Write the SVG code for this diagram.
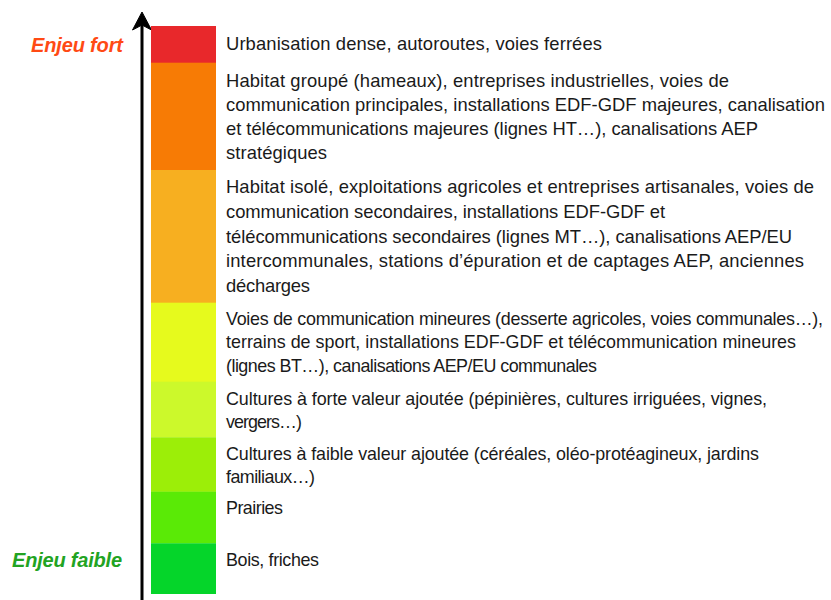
<svg xmlns="http://www.w3.org/2000/svg" width="831" height="600" viewBox="0 0 831 600">
  <style>
    .band { stroke: none; }
    .lbl { font-family: "Liberation Sans", Arial, sans-serif; font-size: 18.4px; fill: #1a1a1a; }
    .sm { font-size: 17.9px; }
    .axis { font-family: "Liberation Sans", Arial, sans-serif; font-size: 20px; font-weight: bold; font-style: italic; }
  </style>
  <rect width="831" height="600" fill="#ffffff"/>

  <!-- vertical scale arrow -->
  <g id="connectors">
    <line x1="142" y1="600" x2="142" y2="24" stroke="#000" stroke-width="3"/>
    <path d="M142,12 L151.5,30 L142,25 L132.5,30 Z" fill="#000" stroke="#000" stroke-width="1" stroke-linejoin="miter"/>
  </g>

  <g id="label-fort">
    <text class="axis" x="31" y="52" fill="#FF4A14" textLength="92">Enjeu fort</text>
  </g>
  <g id="label-faible">
    <text class="axis" x="12" y="567" fill="#22A322" textLength="110">Enjeu faible</text>
  </g>

  <g id="band-1">
    <rect class="band" x="151" y="26" width="65" height="37" fill="#E8282B"/>
    <text class="lbl" x="226" y="50" textLength="376">Urbanisation dense, autoroutes, voies ferrées</text>
  </g>
  <g id="band-2">
    <rect class="band" x="151" y="62.7" width="65" height="107.5" fill="#F77B05"/>
    <text class="lbl" x="226" y="87" textLength="503">Habitat groupé (hameaux), entreprises industrielles, voies de</text>
    <text class="lbl" x="226" y="111" textLength="599">communication principales, installations EDF-GDF majeures, canalisation</text>
    <text class="lbl" x="226" y="135" textLength="532">et télécommunications majeures (lignes HT…), canalisations AEP</text>
    <text class="lbl" x="226" y="158.5" textLength="101">stratégiques</text>
  </g>
  <g id="band-3">
    <rect class="band" x="151" y="170" width="65" height="133" fill="#F7AF20"/>
    <text class="lbl" x="226" y="193.3" textLength="588">Habitat isolé, exploitations agricoles et entreprises artisanales, voies de</text>
    <text class="lbl" x="226" y="218" textLength="439">communication secondaires, installations EDF-GDF et</text>
    <text class="lbl" x="226" y="242.5" textLength="566">télécommunications secondaires (lignes MT…), canalisations AEP/EU</text>
    <text class="lbl" x="226" y="267" textLength="578">intercommunales, stations d’épuration et de captages AEP, anciennes</text>
    <text class="lbl" x="226" y="291.5" textLength="84">décharges</text>
  </g>
  <g id="band-4">
    <rect class="band" x="151" y="302.7" width="65" height="79.3" fill="#E6FA1D"/>
    <text class="lbl sm" x="226" y="325" textLength="597">Voies de communication mineures (desserte agricoles, voies communales…),</text>
    <text class="lbl sm" x="226" y="348.3" textLength="570">terrains de sport, installations EDF-GDF et télécommunication mineures</text>
    <text class="lbl sm" x="226" y="371.7" textLength="371">(lignes BT…), canalisations AEP/EU communales</text>
  </g>
  <g id="band-5">
    <rect class="band" x="151" y="381.7" width="65" height="55.8" fill="#CCF92B"/>
    <text class="lbl sm" x="226" y="405" textLength="541">Cultures à forte valeur ajoutée (pépinières, cultures irriguées, vignes,</text>
    <text class="lbl sm" x="226" y="428.3" textLength="76">vergers…)</text>
  </g>
  <g id="band-6">
    <rect class="band" x="151" y="437.3" width="65" height="54.6" fill="#9CEE08"/>
    <text class="lbl sm" x="226" y="460" textLength="533">Cultures à faible valeur ajoutée (céréales, oléo-protéagineux, jardins</text>
    <text class="lbl sm" x="226" y="483.3" textLength="89">familiaux…)</text>
  </g>
  <g id="band-7">
    <rect class="band" x="151" y="491.7" width="65" height="51.8" fill="#5AEA06"/>
    <text class="lbl sm" x="226" y="514.3" textLength="57">Prairies</text>
  </g>
  <g id="band-8">
    <rect class="band" x="151" y="543.3" width="65" height="50.7" fill="#05D52A"/>
    <text class="lbl sm" x="226" y="565.7" textLength="93">Bois, friches</text>
  </g>
</svg>
